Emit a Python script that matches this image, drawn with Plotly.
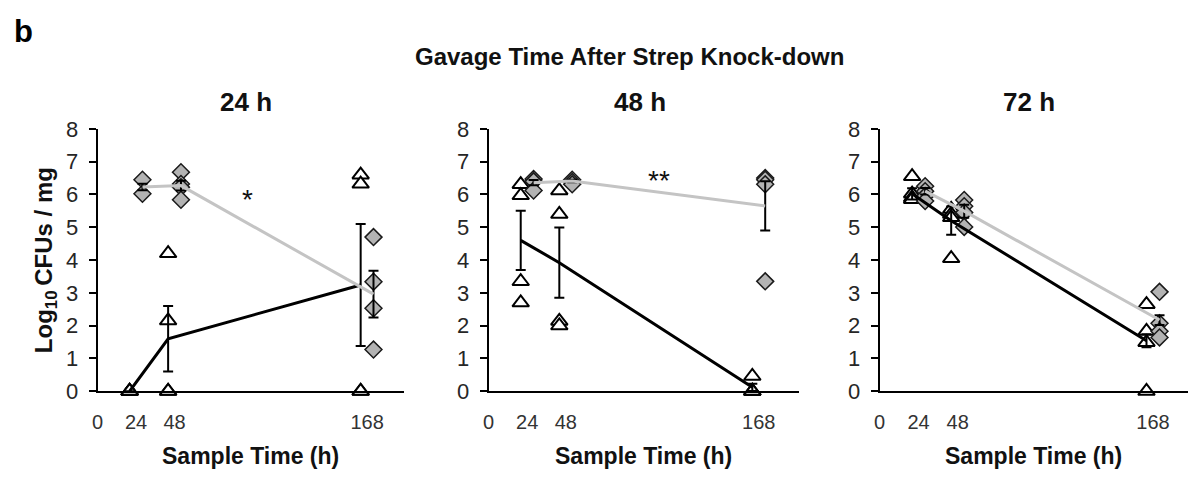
import plotly.graph_objects as go

# ---------------- data ----------------
sample_times = [24, 48, 168]
panel_titles = ["24 h", "48 h", "72 h"]
x_tick_vals = [0, 24, 48, 168]
x_tick_text = ["0", "24", "48", "168"]
y_tick_vals = [0, 1, 2, 3, 4, 5, 6, 7, 8]

# Gavage 24 h
g24_tri = [[0, 0, 0, 0], [4.2, 2.15, 0, 0], [6.6, 6.32, 0, 0]]
g24_dia = [[6.45, 6.02], [6.68, 6.32, 6.22, 5.84], [4.70, 3.34, 2.53, 1.27]]
g24_tri_mean = [0.0, 1.6, 3.24]
g24_tri_sem = [0.0, 1.0, 1.86]
g24_dia_mean = [6.23, 6.27, 2.96]
g24_dia_sem = [0.1, 0.15, 0.71]

# Gavage 48 h
g48_tri = [[6.31, 5.97, 3.35, 2.70], [6.12, 5.40, 2.14, 2.0], [0.46, 0, 0, 0]]
g48_dia = [[6.47, 6.40, 6.12], [6.45, 6.38, 6.31], [6.5, 6.45, 6.31, 3.35]]
g48_tri_mean = [4.6, 3.92, 0.12]
g48_tri_sem = [0.9, 1.07, 0.11]
g48_dia_mean = [6.36, 6.41, 5.65]
g48_dia_sem = [0.08, 0.04, 0.75]

# Gavage 72 h
g72_tri = [[6.55, 6.02, 5.9, 5.85], [5.55, 5.4, 5.3, 4.05], [2.65, 1.83, 1.49, 0]]
g72_dia = [[6.25, 6.1, 5.95, 5.8], [5.83, 5.64, 5.45, 5.01], [3.03, 2.07, 1.83, 1.64]]
g72_tri_mean = [6.02, 5.2, 1.54]
g72_tri_sem = [0.17, 0.43, 0.2]
g72_dia_mean = [6.1, 5.49, 2.17]
g72_dia_sem = [0.1, 0.2, 0.15]

# significance marks (x in hours, y in log10 units), one per panel
sig_x = [93.6, 106, None]
sig_y = [6.07, 6.65, None]
sig_text = ["*", "**", None]

# ---------------- style ----------------
TRI_OFF = -4
DIA_OFF = 4
FONT = "Arial, Liberation Sans, Helvetica, sans-serif"
W, H = 1188, 481
x_domains_px = [(92, 400), (485, 797), (878, 1188)]
x_ranges = [[0, 191], [0, 193], [0, 189.5]]
y_domain = [1 - 400 / H, 1 - 123.3 / H]
title_px = [241, 637, 1028]

panels = [
    dict(tri=g24_tri, dia=g24_dia, tm=g24_tri_mean, ts=g24_tri_sem, dm=g24_dia_mean, ds=g24_dia_sem),
    dict(tri=g48_tri, dia=g48_dia, tm=g48_tri_mean, ts=g48_tri_sem, dm=g48_dia_mean, ds=g48_dia_sem),
    dict(tri=g72_tri, dia=g72_dia, tm=g72_tri_mean, ts=g72_tri_sem, dm=g72_dia_mean, ds=g72_dia_sem),
]

fig = go.Figure()
annotations = []
layout_axes = {}

for i, p in enumerate(panels):
    xa = "x" if i == 0 else f"x{i + 1}"
    ya = "y" if i == 0 else f"y{i + 1}"

    tx, ty = [], []
    for t, vals in zip(sample_times, p["tri"]):
        tx += [t + TRI_OFF] * len(vals)
        ty += vals
    dx, dy = [], []
    for t, vals in zip(sample_times, p["dia"]):
        dx += [t + DIA_OFF] * len(vals)
        dy += vals

    fig.add_trace(go.Scatter(
        x=tx, y=ty, mode="markers", xaxis=xa, yaxis=ya, cliponaxis=False, showlegend=False,
        marker=dict(symbol="triangle-up", size=14.5, color="white", line=dict(color="black", width=2))))
    fig.add_trace(go.Scatter(
        x=dx, y=dy, mode="markers", xaxis=xa, yaxis=ya, cliponaxis=False, showlegend=False,
        marker=dict(symbol="diamond", size=13, color="#b3b3b3", line=dict(color="#1a1a1a", width=1.5))))
    fig.add_trace(go.Scatter(
        x=[t + TRI_OFF for t in sample_times], y=p["tm"], mode="lines", xaxis=xa, yaxis=ya,
        cliponaxis=False, showlegend=False, line=dict(color="black", width=3),
        error_y=dict(type="data", array=p["ts"], color="black", thickness=2, width=5)))
    fig.add_trace(go.Scatter(
        x=[t + DIA_OFF for t in sample_times], y=p["dm"], mode="lines", xaxis=xa, yaxis=ya,
        cliponaxis=False, showlegend=False, line=dict(color="#c4c4c4", width=3),
        error_y=dict(type="data", array=p["ds"], color="black", thickness=2, width=5)))

    x0, x1 = x_domains_px[i]
    layout_axes["xaxis" if i == 0 else f"xaxis{i + 1}"] = dict(
        domain=[x0 / W, x1 / W], range=x_ranges[i], anchor=ya,
        showline=True, linecolor="black", linewidth=2, showgrid=False, zeroline=False,
        tickmode="array", tickvals=x_tick_vals, ticktext=x_tick_text, ticks="",
        ticklabelstandoff=12, tickfont=dict(family=FONT, size=20, color="#333333"))
    layout_axes["yaxis" if i == 0 else f"yaxis{i + 1}"] = dict(
        domain=y_domain, range=[0, 8], anchor=xa,
        showline=True, linecolor="black", linewidth=2, showgrid=False, zeroline=False,
        tickmode="array", tickvals=y_tick_vals, ticks="outside", ticklen=7, tickwidth=2,
        tickcolor="black", ticklabelstandoff=6, tickfont=dict(family=FONT, size=22, color="#262626"))

    annotations.append(dict(
        x=title_px[i] / W, y=1 - 95 / H, xref="paper", yref="paper", showarrow=False,
        text=f"<b>{panel_titles[i]}</b>", font=dict(family=FONT, size=26, color="#111111"),
        xanchor="center", yanchor="middle"))
    annotations.append(dict(
        x=0.5, y=1 - 468 / H, xref=f"{xa} domain", yref="paper", showarrow=False,
        text="<b>Sample Time (h)</b>", font=dict(family=FONT, size=23, color="#111111"),
        xanchor="center", yanchor="middle"))
    if sig_x[i] is not None:
        annotations.append(dict(
            x=sig_x[i], y=sig_y[i], xref=xa, yref=ya, showarrow=False, text=sig_text[i],
            font=dict(family=FONT, size=28, color="#111111"), xanchor="center",
            yanchor="middle", yshift=-7))

annotations.append(dict(
    x=40 / W, y=1 - 262 / H, xref="paper", yref="paper", showarrow=False, textangle=-90,
    text="<b>Log<sub>10</sub>\u2009CFUs / mg</b>", font=dict(family=FONT, size=24, color="#111111"),
    xanchor="center", yanchor="middle"))
annotations.append(dict(
    x=627 / W, y=1 - 47 / H, xref="paper", yref="paper", showarrow=False,
    text="<b>Gavage Time After Strep Knock-down</b>", font=dict(family=FONT, size=24, color="#111111"),
    xanchor="center", yanchor="middle"))
annotations.append(dict(
    x=18 / W, y=1 - 21 / H, xref="paper", yref="paper", showarrow=False,
    text="<b>b</b>", font=dict(family=FONT, size=31, color="black"),
    xanchor="center", yanchor="middle"))

fig.update_layout(
    width=W, height=H, margin=dict(l=0, r=0, t=0, b=0),
    paper_bgcolor="white", plot_bgcolor="white",
    annotations=annotations, showlegend=False, **layout_axes)

fig.write_html("out.html", config={"displayModeBar": False})
